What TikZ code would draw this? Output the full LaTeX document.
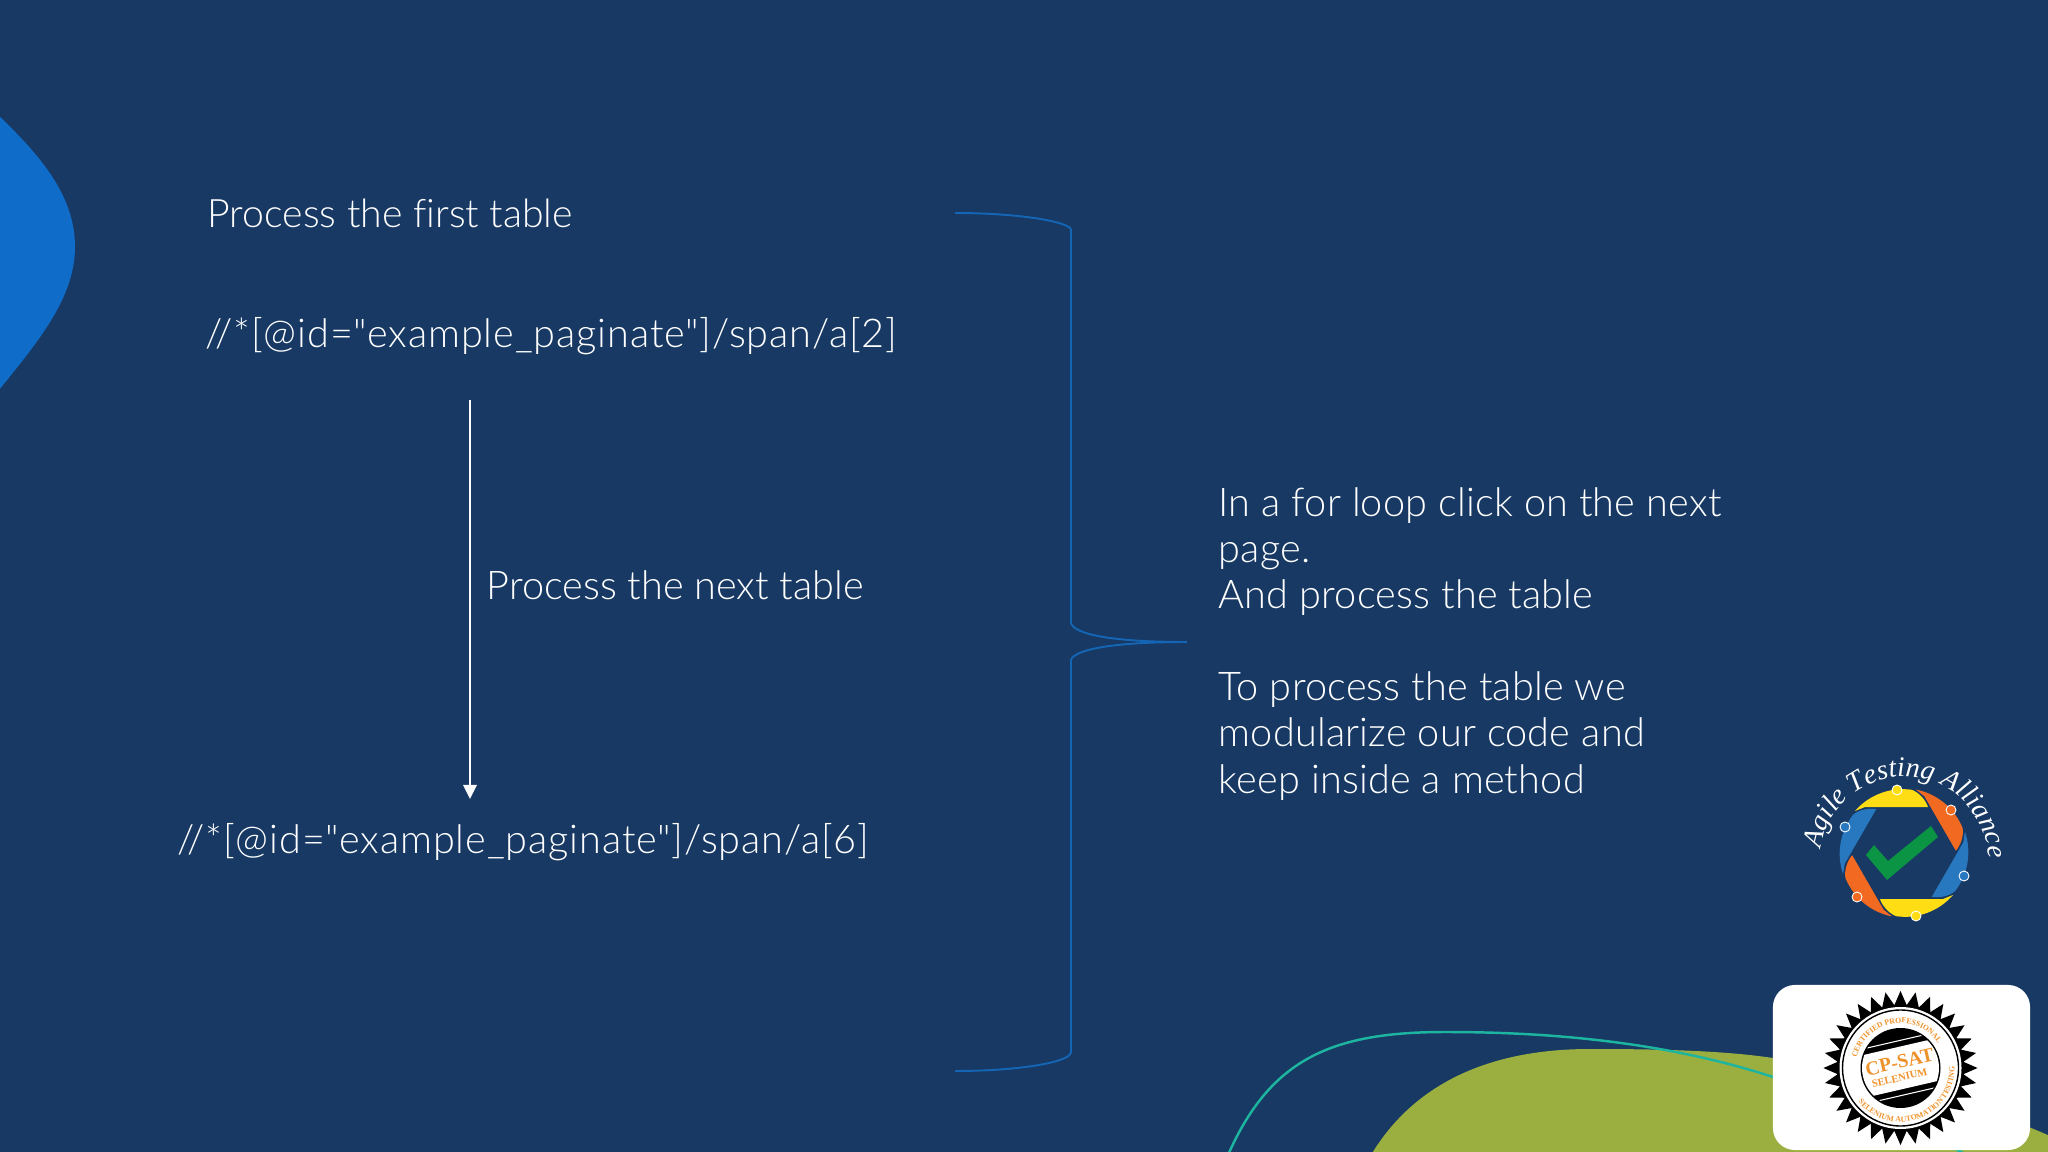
\documentclass[tikz,border=0pt]{standalone}
\usepackage{fontspec}
\setmainfont{Lato Light}[Ligatures={TeXOff,CommonOff}]
\newfontfamily\pathfont{Lato Light}[Ligatures={TeXOff,CommonOff},LetterSpace=2.2]
\newfontfamily\notefont{Lato Light}[Ligatures={TeXOff,CommonOff},LetterSpace=0.5]
\newfontfamily\sealfont{Liberation Serif}
\usetikzlibrary{arrows.meta,shapes.geometric,decorations.text}
\definecolor{slidebg}{HTML}{173964}
\definecolor{blobblue}{HTML}{0F6CC8}
\definecolor{blobgreen}{HTML}{9BAF40}
\definecolor{curveteal}{HTML}{1DB5A0}
\definecolor{bracketblue}{HTML}{1565B5}
\definecolor{logoyellow}{HTML}{FFDD15}
\definecolor{logoorange}{HTML}{F26A21}
\definecolor{logoblue}{HTML}{2878C0}
\definecolor{logogreen}{HTML}{0B9444}
\definecolor{sealorange}{HTML}{F0922B}
\tikzset{
  slidetext/.style={text=white,inner sep=0pt,anchor=base west,align=left,
    font=\fontsize{11.27pt}{13.1pt}\selectfont},
  pathtext/.style={slidetext,font=\pathfont\fontsize{11.27pt}{13.1pt}\selectfont},
  notetext/.style={slidetext,font=\notefont\fontsize{11.27pt}{13.1pt}\selectfont},
  bracket/.style={bracketblue,line width=0.55pt},
  flowarrow/.style={white,line width=0.55pt,-{Triangle[length=4pt,width=3.8pt]}}
}
\begin{document}
\begin{tikzpicture}[x=0.01cm,y=-0.01cm]
  \useasboundingbox (0,0) rectangle (2048,1152);
  \clip (0,0) rectangle (2048,1152);
  \fill[slidebg] (0,0) rectangle (2048,1152);
  % background shapes
  \fill[blobblue] (-5,112) .. controls (40,155) and (75,195) .. (75,247)
    .. controls (75,300) and (35,345) .. (-5,395) -- cycle;
  \fill[blobgreen] (1371,1155) .. controls (1410,1090) and (1480,1049) .. (1590,1049)
    .. controls (1650,1049) and (1720,1050) .. (1773,1058)
    .. controls (1880,1075) and (1980,1105) .. (2050,1136) -- (2050,1155) -- cycle;
  \draw[curveteal,line width=0.7pt] (1228,1155) .. controls (1270,1060) and (1330,1032) .. (1445,1032)
    .. controls (1540,1032) and (1660,1040) .. (1773,1077)
    .. controls (1850,1100) and (1920,1130) .. (1967,1155);
  % left column
  \node (firsttable) at (207,228) [slidetext,font=\fontsize{11.15pt}{13.1pt}\selectfont] {Process the first table};
  \node (firstpath) at (205,348) [pathtext] {//*[@id="example\_paginate"]/span/a[2]};
  \node (nexttable) at (486,600) [slidetext] {Process the next table};
  \node (lastpath) at (177,853) [pathtext] {//*[@id="example\_paginate"]/span/a[6]};
  \coordinate (arrowtop) at (470,400);
  \coordinate (arrowend) at (470,799);
  \draw[flowarrow] (arrowtop) -- (arrowend);
  % curly bracket
  \coordinate (bracetop) at (955,213);
  \coordinate (braceupper) at (1071,230);
  \coordinate (bracemidup) at (1071,623);
  \coordinate (bracetip) at (1187,642);
  \coordinate (bracemiddown) at (1071,660);
  \coordinate (bracelower) at (1071,1052);
  \coordinate (braceend) at (955,1071);
  \draw[bracket] (bracetop) .. controls (1020,213) and (1071,222) .. (braceupper)
    -- (bracemidup) .. controls (1074,634) and (1110,642) .. (bracetip)
    .. controls (1110,642) and (1074,650) .. (bracemiddown)
    -- (bracelower) .. controls (1071,1062) and (1020,1071) .. (braceend);
  % right column
  \node (looptext) at (1218,793) [notetext] {In a for loop click on the next\\page.\\And process the table\\~\\To process the table we\\modularize our code and\\keep inside a method};
  % alliance logo
  \begin{scope}[shift={(1904,853)},x=0.01cm,y=0.01cm]
    \foreach \ang/\col in {0/logoyellow,-60/logoorange,-120/logoblue,180/logoyellow,120/logoorange,60/logoblue}{
      \fill[\col,rotate=\ang] (-49,42) arc (139:82:63.5) .. controls (16,60) and (22,52) .. (24,46) -- (-39,46) -- cycle;
    }
    \foreach \cx/\cy/\col in {-7/63/logoyellow,47/43/logoorange,60/-23/logoblue,12/-63/logoyellow,-47/-44/logoorange,-59/26/logoblue}{
      \draw[white,fill=\col,line width=0.25pt] (\cx,\cy) circle (5);
    }
    \fill[logogreen] (-38,-2) -- (-30,8) -- (-16,-8) -- (27,27) -- (34,16) -- (-17,-27) -- cycle;
    \path[decorate,decoration={text along path,text align=left,
      text={|\color{white}\sealfont\itshape\fontsize{8pt}{8pt}\selectfont|Agile Testing Alliance}}]
      (-83,4) arc (172:-30:84);
  \end{scope}
  % seal card
  \node (sealcard) at (1901.5,1067.5) [fill=white,rounded corners=0.22cm,minimum width=2.57cm,minimum height=1.65cm,inner sep=0pt] {};
  \node (sealstar) at (1900.5,1068) [star,star points=32,star point ratio=1.22,fill=black,minimum size=1.54cm,inner sep=0pt] {};
  \begin{scope}[shift={(1900.5,1068)},x=0.01cm,y=0.01cm]
    \fill[white] (0,0) circle (61);
    \draw[black,line width=0.4pt] (0,0) circle (58);
    \fill[black] (0,0) circle (40);
    \begin{scope}
      \clip (0,0) circle (38.5);
      \fill[white,rotate=13] (-45,-21) rectangle (45,21);
      \draw[white,line width=0.3pt,rotate=13] (-45,27) -- (45,27) (-45,-27) -- (45,-27);
    \end{scope}
    \node (sealname) at (-1,6) [rotate=13,inner sep=0pt,text=sealorange,font=\sealfont\bfseries\fontsize{5.6pt}{5.6pt}\selectfont] {CP-SAT};
    \node (sealsub) at (-1,-10) [rotate=13,inner sep=0pt,text=sealorange,font=\sealfont\bfseries\fontsize{3pt}{3pt}\selectfont] {SELENIUM};
    \path[decorate,decoration={text along path,text align=center,
      text={|\color{sealorange}\sealfont\bfseries\fontsize{2.2pt}{2.2pt}\selectfont|CERTIFIED PROFESSIONAL}}]
      (175:45) arc (175:25:45);
    \path[decorate,decoration={text along path,text align=center,
      text={|\color{sealorange}\sealfont\bfseries\fontsize{2.2pt}{2.2pt}\selectfont|SELENIUM AUTOMATION TESTING}}]
      (205:54) arc (205:375:54);
  \end{scope}
\end{tikzpicture}
\end{document}
